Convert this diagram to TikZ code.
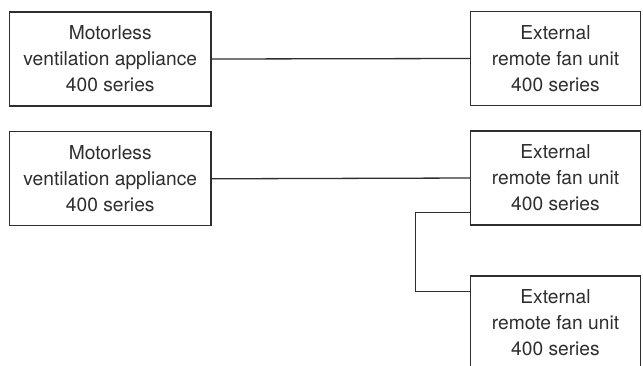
\documentclass[tikz,border=0pt]{standalone}
\usepackage{fontspec}
\setmainfont{TeX Gyre Heros}
\usetikzlibrary{calc}
\definecolor{ink}{gray}{0.18}
\tikzset{
    unit/.style = {draw = ink, text = ink, line width = 0.65pt, align = center, inner sep = 0pt,
                   minimum height = 47pt, font = \fontsize{9.6}{13}\selectfont},
    wide/.style = {unit, minimum width = 100.75pt},
    narrow/.style = {unit, minimum width = 85pt}
}

\begin{document}
\begin{tikzpicture}[x = 0.5pt, y = -0.5pt]
            \useasboundingbox (0, 0) rectangle (643, 365);

            \node [wide] (m1) at (110.25, 59) {Motorless\\ventilation appliance\\400 series};
            \node [narrow] (e1) at (555.5, 58.5) {External\\remote fan unit\\400 series};

            \node [wide] (m2) at (110.25, 178.8) {Motorless\\ventilation appliance\\400 series};
            \node [narrow] (e2) at (555.5, 178) {External\\remote fan unit\\400 series};
            \node [narrow] (e3) at (555.5, 323) {External\\remote fan unit\\400 series};

            \coordinate (j1) at (415.7, 212.3);
            \coordinate (j2) at (415.7, 291.7);

            \draw [ink, line width = 0.65pt] (m1.east) -- (e1.west);
            \draw [ink, line width = 0.65pt] (m2.east) -- (e2.west);
            \draw [ink, line width = 0.65pt] (j1 -| e2.west) -- (j1) -- (j2) -- (j2 -| e3.west);
        \end{tikzpicture}
\end{document}
